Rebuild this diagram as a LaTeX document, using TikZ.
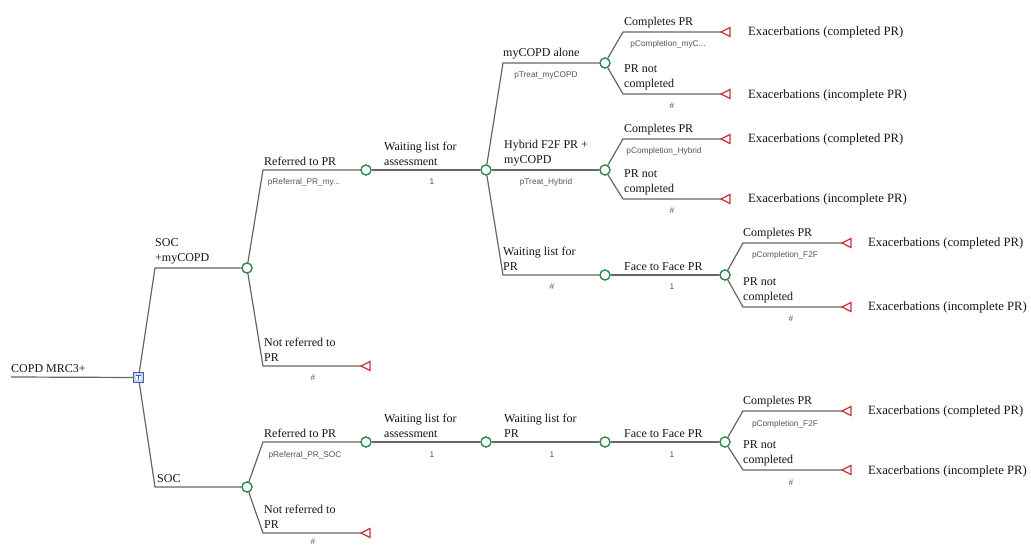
\documentclass[tikz,border=0pt]{standalone}
\usepackage{fontspec}
\setmainfont{Liberation Serif}
\newfontfamily\lblsans{Liberation Sans}
\definecolor{linegray}{HTML}{666666}
\definecolor{chgreen}{HTML}{2A8A4A}
\definecolor{termred}{HTML}{C8323C}
\definecolor{decblue}{HTML}{3C5FAE}
\definecolor{decfill}{HTML}{C9D8F2}
\definecolor{textcol}{HTML}{141414}
\definecolor{probgray}{HTML}{555555}
\begin{document}
\begin{tikzpicture}[x=1pt,y=-1pt,
  br/.style={draw=linegray, line width=1.2pt},
  chance/.style={circle, draw=chgreen, fill=white, line width=1.2pt, minimum size=10pt, inner sep=0pt},
  decision/.style={rectangle, draw=decblue, fill=decfill, line width=1pt, minimum size=9.5pt, inner sep=0pt},
  term/.style={draw=termred, fill=white, line width=1.2pt, line join=miter},
  lbl/.style={font=\fontsize{12}{15}\selectfont, anchor=south west, inner sep=0pt, align=left, text=textcol},
  prob/.style={font=\lblsans\fontsize{8.3}{10}\selectfont, anchor=base, inner sep=0pt, text=probgray},
  outc/.style={font=\fontsize{12.7}{15}\selectfont, anchor=west, inner sep=0pt, text=textcol},
]
\useasboundingbox (0,0) rectangle (1031,545);

% ---------- coordinates (corners and terminals) ----------
\coordinate (r0) at (11,377);
\coordinate (cA) at (155,268);
\coordinate (cH) at (155,487);
\coordinate (cA1) at (263,170);
\coordinate (cA2) at (263,366);
\coordinate (tA2) at (361,366);
\coordinate (cH1) at (263,442);
\coordinate (cH2) at (263,533);
\coordinate (tH2) at (361,533);
\coordinate (cC1) at (503,63);
\coordinate (cC3) at (503,275);
\coordinate (cD1) at (623,32);
\coordinate (cD2) at (623,94);
\coordinate (tD1) at (721,32);
\coordinate (tD2) at (721,94);
\coordinate (cE1) at (623,139);
\coordinate (cE2) at (623,199);
\coordinate (tE1) at (721,139);
\coordinate (tE2) at (721,199);
\coordinate (cG1) at (743,243);
\coordinate (cG2) at (743,307);
\coordinate (tG1) at (842,243);
\coordinate (tG2) at (842,307);
\coordinate (cL1) at (743,411);
\coordinate (cL2) at (743,470);
\coordinate (tL1) at (842,411);
\coordinate (tL2) at (842,470);

% ---------- nodes ----------
\node[decision] (dec) at (138.5,377.5) {};
\node[chance] (A) at (247,268) {};
\node[chance] (H) at (247,487) {};
\node[chance] (B) at (366,170) {};
\node[chance] (C) at (486,170) {};
\node[chance] (D) at (605,63) {};
\node[chance] (E) at (605,170) {};
\node[chance] (F) at (605,275) {};
\node[chance] (G) at (725,275) {};
\node[chance] (I) at (366,442) {};
\node[chance] (J) at (486,442) {};
\node[chance] (K) at (605,442) {};
\node[chance] (L) at (725,442) {};

% decision icon
\fill[white] ([xshift=-2.6pt,yshift=-2.6pt]dec.center) rectangle ([xshift=2.6pt,yshift=2.2pt]dec.center);
\draw[decblue, line width=0.9pt] ([yshift=-2.6pt]dec.center) -- ([yshift=2.2pt]dec.center);
\draw[decblue, line width=0.9pt] ([xshift=-2.6pt,yshift=2.2pt]dec.center) -- ([xshift=2.6pt,yshift=2.2pt]dec.center);

% ---------- branches ----------
\draw[br] (r0) -- (dec);
\draw[br] (dec) -- (cA) -- (A);
\draw[br] (dec) -- (cH) -- (H);
\draw[br] (A) -- (cA1) -- (B);
\draw[br] (A) -- (cA2) -- (tA2);
\draw[br] (B) -- (C);
\draw[br] (C) -- (cC1) -- (D);
\draw[br] (C) -- (E);
\draw[br] (C) -- (cC3) -- (F);
\draw[br] (D) -- (cD1) -- (tD1);
\draw[br] (D) -- (cD2) -- (tD2);
\draw[br] (E) -- (cE1) -- (tE1);
\draw[br] (E) -- (cE2) -- (tE2);
\draw[br] (F) -- (G);
\draw[br] (G) -- (cG1) -- (tG1);
\draw[br] (G) -- (cG2) -- (tG2);
\draw[br] (H) -- (cH1) -- (I);
\draw[br] (H) -- (cH2) -- (tH2);
\draw[br] (I) -- (J);
\draw[br] (J) -- (K);
\draw[br] (K) -- (L);
\draw[br] (L) -- (cL1) -- (tL1);
\draw[br] (L) -- (cL2) -- (tL2);

% terminals (chance nodes redrawn on top)
\foreach \t in {tA2,tH2,tD1,tD2,tE1,tE2,tG1,tG2,tL1,tL2}{
  \draw[term] (\t) -- ++(9,-4.5) -- ++(0,9) -- cycle;
}
\foreach \n in {A,H,B,C,D,E,F,G,I,J,K,L}{
  \node[chance] at (\n) {};
}

% ---------- branch labels ----------
\node[lbl] (lroot) at (11,373) {COPD MRC3+};
\node[lbl] (lA) at (155,264) {SOC\\+myCOPD};
\node[lbl] (lH) at (157,483) {SOC};
\node[lbl] (lA1) at (264,166) {Referred to PR};
\node[lbl] (lA2) at (264,362) {Not referred to\\PR};
\node[lbl] (lB) at (384,166) {Waiting list for\\assessment};
\node[lbl] (lC1) at (503,59) {myCOPD alone};
\node[lbl] (lC2) at (504,166) {Hybrid F2F PR +\\myCOPD};
\node[lbl] (lC3) at (503,271) {Waiting list for\\PR};
\node[lbl] (lD1) at (624,28) {Completes PR};
\node[lbl] (lD2) at (624,90) {PR not\\completed};
\node[lbl] (lE1) at (624,135) {Completes PR};
\node[lbl] (lE2) at (624,195) {PR not\\completed};
\node[lbl] (lF) at (624,271) {Face to Face PR};
\node[lbl] (lG1) at (743,239) {Completes PR};
\node[lbl] (lG2) at (743,303) {PR not\\completed};
\node[lbl] (lH1) at (264,438) {Referred to PR};
\node[lbl] (lH2) at (264,529) {Not referred to\\PR};
\node[lbl] (lI) at (384,438) {Waiting list for\\assessment};
\node[lbl] (lJ) at (504,438) {Waiting list for\\PR};
\node[lbl] (lK) at (624,438) {Face to Face PR};
\node[lbl] (lL1) at (743,407) {Completes PR};
\node[lbl] (lL2) at (743,466) {PR not\\completed};

% ---------- probabilities ----------
\node[prob] (pA1) at (304,185) {pReferral\_PR\_my...};
\node[prob] (pA2) at (313,381) {\#};
\node[prob] (pB) at (432,185) {1};
\node[prob] (pC1) at (546,78) {pTreat\_myCOPD};
\node[prob] (pC2) at (546,185) {pTreat\_Hybrid};
\node[prob] (pC3) at (552,290) {\#};
\node[prob] (pD1) at (668,47) {pCompletion\_myC...};
\node[prob] (pD2) at (672,109) {\#};
\node[prob] (pE1) at (664,154) {pCompletion\_Hybrid};
\node[prob] (pE2) at (672,214) {\#};
\node[prob] (pF) at (672,290) {1};
\node[prob] (pG1) at (785,258) {pCompletion\_F2F};
\node[prob] (pG2) at (791,322) {\#};
\node[prob] (pH1) at (305,457) {pReferral\_PR\_SOC};
\node[prob] (pH2) at (313,544) {\#};
\node[prob] (pI) at (432,457) {1};
\node[prob] (pJ) at (552,457) {1};
\node[prob] (pK) at (672,457) {1};
\node[prob] (pL1) at (785,426) {pCompletion\_F2F};
\node[prob] (pL2) at (791,485) {\#};

% ---------- outcomes ----------
\node[outc] (oD1) at (748,32) {Exacerbations (completed PR)};
\node[outc] (oD2) at (748,95) {Exacerbations (incomplete PR)};
\node[outc] (oE1) at (748,139) {Exacerbations (completed PR)};
\node[outc] (oE2) at (748,199) {Exacerbations (incomplete PR)};
\node[outc] (oG1) at (868,243) {Exacerbations (completed PR)};
\node[outc] (oG2) at (868,307) {Exacerbations (incomplete PR)};
\node[outc] (oL1) at (868,411) {Exacerbations (completed PR)};
\node[outc] (oL2) at (868,471) {Exacerbations (incomplete PR)};
\end{tikzpicture}
\end{document}
